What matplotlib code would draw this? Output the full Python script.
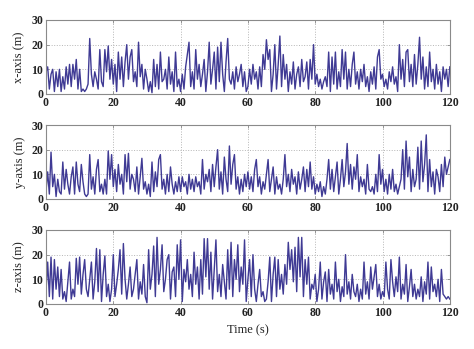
import matplotlib
matplotlib.use("Agg")
import matplotlib.pyplot as plt
import numpy as np

# sample times (s), one sample every 0.5 s
time_s = np.arange(0, 120.5, 0.5)

# x-axis position (m), rows of 10 s
x_axis = [
    9, 11, 2, 8, 10, 1, 9, 3, 10, 1, 7, 2, 11, 4, 12, 3, 12, 6, 14, 2,
    10, 1, 2, 1, 2, 4, 22.5, 8, 3, 9, 6, 2, 18, 5, 3, 18, 9, 19.5, 6, 14,
    4, 12, 1, 17, 6, 15, 3, 13, 20, 6, 15, 18, 5, 9, 3, 21, 7, 12, 2, 10,
    6, 1, 5, 0.5, 14, 3, 12, 2, 17, 5, 6, 10, 2, 15, 4, 9, 1, 17, 3, 6,
    1, 8, 2, 11, 16, 21, 3, 9, 2, 18, 6, 12, 3, 8, 14, 1, 9, 21, 4, 10,
    17, 2, 19, 5, 21, 8, 1, 13, 22.5, 6, 4, 9, 2, 11, 5, 8, 12, 3, 9, 1,
    3, 10, 4, 12, 6, 9, 2, 11, 3, 16, 10, 22, 14, 18, 1, 8, 20, 2, 12, 23.5,
    3, 16, 6, 12, 1, 9, 4, 13, 2, 8, 11, 3, 14, 5, 7, 13, 2, 14, 6, 20,
    4, 8, 3, 6, 2, 5, 7, 3, 17, 1, 15, 4, 17, 2, 9, 3, 18, 6, 17, 2,
    10, 3, 12, 17, 4, 9, 2, 10, 5, 12, 3, 7, 1, 9, 4, 11, 2, 15, 18, 6,
    8, 3, 6, 2, 9, 5, 11, 4, 7, 1, 20, 6, 14, 3, 17, 18, 5, 12, 3, 16,
    4, 12, 23, 6, 15, 2, 11, 3, 17, 5, 10, 2, 12, 4, 9, 1, 11, 6, 10, 3,
    11,
]

# y-axis position (m)
y_axis = [
    3, 11, 2, 19, 5, 10, 1, 8, 3, 2, 15, 4, 12, 6, 2, 9, 13, 2, 15, 6,
    3, 14, 7, 2, 1, 2, 18, 4, 9, 2, 12, 16, 3, 6, 2, 8, 2, 19.5, 8, 18,
    5, 12, 3, 14, 6, 10, 2, 18, 7, 18.5, 4, 10, 8, 3, 13, 2, 9, 16.5, 4, 7,
    2, 6, 1, 15, 3, 11, 5, 16, 18, 4, 8, 2, 10, 3, 13, 6, 2, 7, 3, 9,
    3, 9, 5, 7, 2, 10, 4, 8, 3, 9, 5, 7, 2, 16, 4, 10, 7, 12, 3, 14,
    5, 13, 20, 4, 11, 2, 17, 8, 3, 21.5, 6, 14, 18, 4, 9, 2, 8, 3, 10, 5,
    11, 4, 9, 3, 12, 16, 5, 9, 2, 7, 4, 10, 16, 3, 8, 13, 2, 9, 4, 6,
    2, 8, 18, 5, 10, 3, 12, 6, 9, 2, 11, 4, 8, 13, 3, 12, 5, 15, 4, 9,
    2, 6, 3, 7, 1, 5, 2, 8, 16, 4, 12, 3, 9, 15, 2, 8, 16, 5, 11, 22.5,
    6, 14, 4, 13, 8, 18, 3, 9, 5, 8, 2, 14, 4, 3, 5, 2, 10, 3, 18, 6,
    12, 3, 8, 2, 10, 4, 12, 3, 6, 2, 5, 8, 20, 4, 23.5, 9, 17, 3, 12, 5,
    8, 21, 4, 23.5, 7, 14, 26, 3, 16, 5, 11, 2, 12, 9, 3, 14, 5, 17, 10, 13,
    16,
]

# z-axis position (m)
z_axis = [
    5, 17, 3, 19, 2, 18, 6, 15, 3, 14, 2, 5, 1, 9, 17, 2, 6, 3, 18.5, 8,
    19, 4, 12, 18, 6, 3, 10, 17, 2, 9, 22.5, 5, 22, 1, 12, 19.5, 3, 8, 1, 6,
    20, 3, 8, 14, 22, 4, 24.5, 10, 2, 8, 15, 3, 6, 12, 18, 2, 9, 4, 16, 3,
    0.5, 22, 6, 12, 23.5, 3, 27, 8, 14, 24, 5, 10, 18, 20, 2, 13, 15, 3, 24, 10,
    26, 1, 14, 9, 18, 6, 12, 3, 21, 8, 15, 2, 18, 4, 26.5, 11, 26.5, 6, 21, 2,
    14, 26, 5, 12, 3, 16, 9, 2, 22, 6, 25, 3, 18, 10, 24, 5, 15, 8, 26, 1,
    10, 18, 3, 20, 6, 1, 8, 14, 3, 5, 1, 2, 9, 19, 1, 12, 19, 3, 18, 6,
    12, 4, 16, 8, 25, 14, 22, 9, 23, 5, 27, 11, 27, 3, 18, 8, 19, 2, 8, 6,
    12, 1, 6, 17, 2, 9, 13, 1, 14, 4, 8, 2, 17, 5, 10, 1, 7, 3, 20, 4,
    9, 2, 12, 5, 3, 8, 1, 6, 2, 17, 4, 9, 2, 15, 6, 11, 16, 3, 8, 2,
    5, 3, 17, 6, 2, 18, 9, 3, 11, 5, 19, 2, 8, 4, 16, 1, 7, 14, 3, 8,
    2, 6, 3, 11, 1, 9, 4, 17, 2, 15, 5, 8, 3, 10, 1, 14, 4, 3, 2, 3,
    2,
]

labels = ["x-axis (m)", "y-axis (m)", "z-axis (m)"]
series = [x_axis, y_axis, z_axis]
xticks = [0, 20, 40, 60, 80, 100, 120]
yticks = [0, 10, 20, 30]

plt.rcParams["font.family"] = ["Liberation Serif", "DejaVu Serif"]

fig = plt.figure(figsize=(4.74, 3.49), dpi=100)
bottoms = [0.7307, 0.4298, 0.129]
line_color = "#3f3a94"

for bottom, label, values in zip(bottoms, labels, series):
    ax = fig.add_axes([0.097, bottom, 0.852, 0.212])
    ax.plot(time_s, values, color=line_color, lw=1.0)
    ax.set_xlim(0, 120)
    ax.set_ylim(0, 30)
    ax.set_xticks(xticks)
    ax.set_yticks(yticks)
    ax.grid(True, ls=":", color="#b5b5b5", lw=0.7)
    ax.tick_params(direction="in", length=2.5, width=0.6, colors="#888888",
                   labelcolor="#222222", labelsize=8.5, top=True, right=True, pad=2)
    for tl in ax.get_xticklabels() + ax.get_yticklabels():
        tl.set_fontweight("bold")
    for sp in ax.spines.values():
        sp.set_color("#8a8a8a")
        sp.set_linewidth(0.8)
    ax.set_ylabel(label, fontsize=9, color="#222222", labelpad=4)

ax.set_xlabel("Time (s)", fontsize=9, color="#222222", labelpad=4)

fig.savefig("out.png", dpi=100)
